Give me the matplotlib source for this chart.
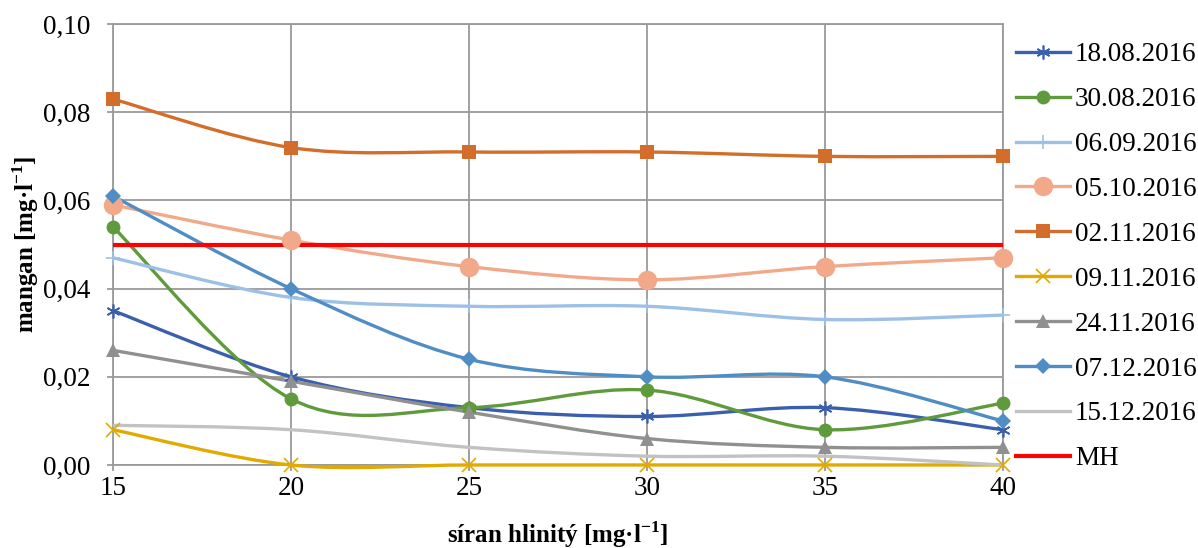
import numpy as np
import matplotlib.pyplot as plt
from matplotlib.path import Path
from matplotlib.patches import PathPatch
from matplotlib.lines import Line2D
from matplotlib.ticker import FuncFormatter

# data
dose = [15, 20, 25, 30, 35, 40]
labels = ['18.08.2016', '30.08.2016', '06.09.2016', '05.10.2016', '02.11.2016',
          '09.11.2016', '24.11.2016', '07.12.2016', '15.12.2016']
v_1808 = [0.035, 0.020, 0.013, 0.011, 0.013, 0.008]
v_3008 = [0.054, 0.015, 0.013, 0.017, 0.008, 0.014]
v_0609 = [0.047, 0.038, 0.036, 0.036, 0.033, 0.034]
v_0510 = [0.059, 0.051, 0.045, 0.042, 0.045, 0.047]
v_0211 = [0.083, 0.072, 0.071, 0.071, 0.070, 0.070]
v_0911 = [0.008, 0.000, 0.000, 0.000, 0.000, 0.000]
v_2411 = [0.026, 0.019, 0.012, 0.006, 0.004, 0.004]
v_0712 = [0.061, 0.040, 0.024, 0.020, 0.020, 0.010]
v_1512 = [0.009, 0.008, 0.004, 0.002, 0.002, 0.000]
mh = 0.05

series = [v_1808, v_3008, v_0609, v_0510, v_0211, v_0911, v_2411, v_0712, v_1512]
colors = ['#3a5fac', '#5f9a3c', '#9dc1e6', '#f1a98a', '#d36d2c',
          '#e2aa00', '#909090', '#4f8dc4', '#c2c2c2']
markers = [(6, 2, 0), 'o', '+', 'o', 's', 'x', '^', 'D', None]
msizes = [10, 10, 10, 14, 10, 10, 10, 8, 0]

plt.rcParams['font.family'] = ['Liberation Serif', 'DejaVu Serif']
plt.rcParams['mathtext.fontset'] = 'custom'
plt.rcParams['mathtext.rm'] = 'Liberation Serif'
plt.rcParams['mathtext.bf'] = 'Liberation Serif:bold'


def smooth_path(x, y):
    # Excel-like smoothed line: cubic bezier through points (catmull-rom tangents)
    x = np.asarray(x, float)
    y = np.asarray(y, float)
    verts = [(x[0], y[0])]
    codes = [Path.MOVETO]
    n = len(x)
    for i in range(n - 1):
        p0 = i - 1 if i > 0 else i
        p3 = i + 2 if i + 2 < n else i + 1
        c1 = (x[i] + (x[i + 1] - x[p0]) / 6, y[i] + (y[i + 1] - y[p0]) / 6)
        c2 = (x[i + 1] - (x[p3] - x[i]) / 6, y[i + 1] - (y[p3] - y[i]) / 6)
        verts += [c1, c2, (x[i + 1], y[i + 1])]
        codes += [Path.CURVE4] * 3
    return Path(verts, codes)


fig = plt.figure(figsize=(11.98, 5.48), dpi=100)
ax = fig.add_axes([0.0943, 0.1515, 0.7427, 0.8045])

lw = 2.4
handles = []
for vals, c, m, ms, lab in zip(series, colors, markers, msizes, labels):
    ax.add_patch(PathPatch(smooth_path(dose, vals), fill=False, edgecolor=c,
                           lw=lw, zorder=3, clip_on=False))
    mew = 1.2 if m in ['+', 'x'] or isinstance(m, tuple) else 0
    if m is not None:
        ax.plot(dose, vals, ls='none', marker=m, ms=ms, color=c, mec=c,
                mew=mew, zorder=4, clip_on=False)
    handles.append(Line2D([], [], color=c, lw=lw, marker=m, ms=ms, mec=c, mew=mew))

ax.plot([dose[0], dose[-1]], [mh, mh], color='#ff0000', lw=3, zorder=3)
handles.append(Line2D([], [], color='#ff0000', lw=3))

ax.set_xlim(15, 40)
ax.set_ylim(0, 0.10)
ax.set_xticks(dose)
ax.set_yticks(np.arange(0, 0.101, 0.02))
ax.yaxis.set_major_formatter(FuncFormatter(lambda v, p: f'{v:.2f}'.replace('.', ',')))
ax.grid(True, color='#9a9a9a', lw=1.3)
ax.set_axisbelow(True)
for s in ax.spines.values():
    s.set_color('#9a9a9a')
    s.set_linewidth(1.3)
ax.tick_params(axis='both', colors='#9a9a9a', labelcolor='black', labelsize=19.5,
               length=4, width=1.3)
ax.tick_params(axis='x', pad=4)
ax.tick_params(axis='y', pad=12)

ax.set_xlabel('síran hlinitý [mg·l$^{\\mathbf{-1}}$]', fontsize=18, fontweight='bold',
              labelpad=13)
ax.set_ylabel('mangan [mg·l$^{\\mathbf{-1}}$]', fontsize=18, fontweight='bold',
              labelpad=1.5)

fig.legend(handles, labels + ['MH'], loc='upper left', bbox_to_anchor=(0.848, 0.923),
           frameon=False, fontsize=19.5, handlelength=2.0, handletextpad=0.18,
           labelspacing=0.735, borderaxespad=0, borderpad=0)

fig.savefig('out.png', dpi=100)
